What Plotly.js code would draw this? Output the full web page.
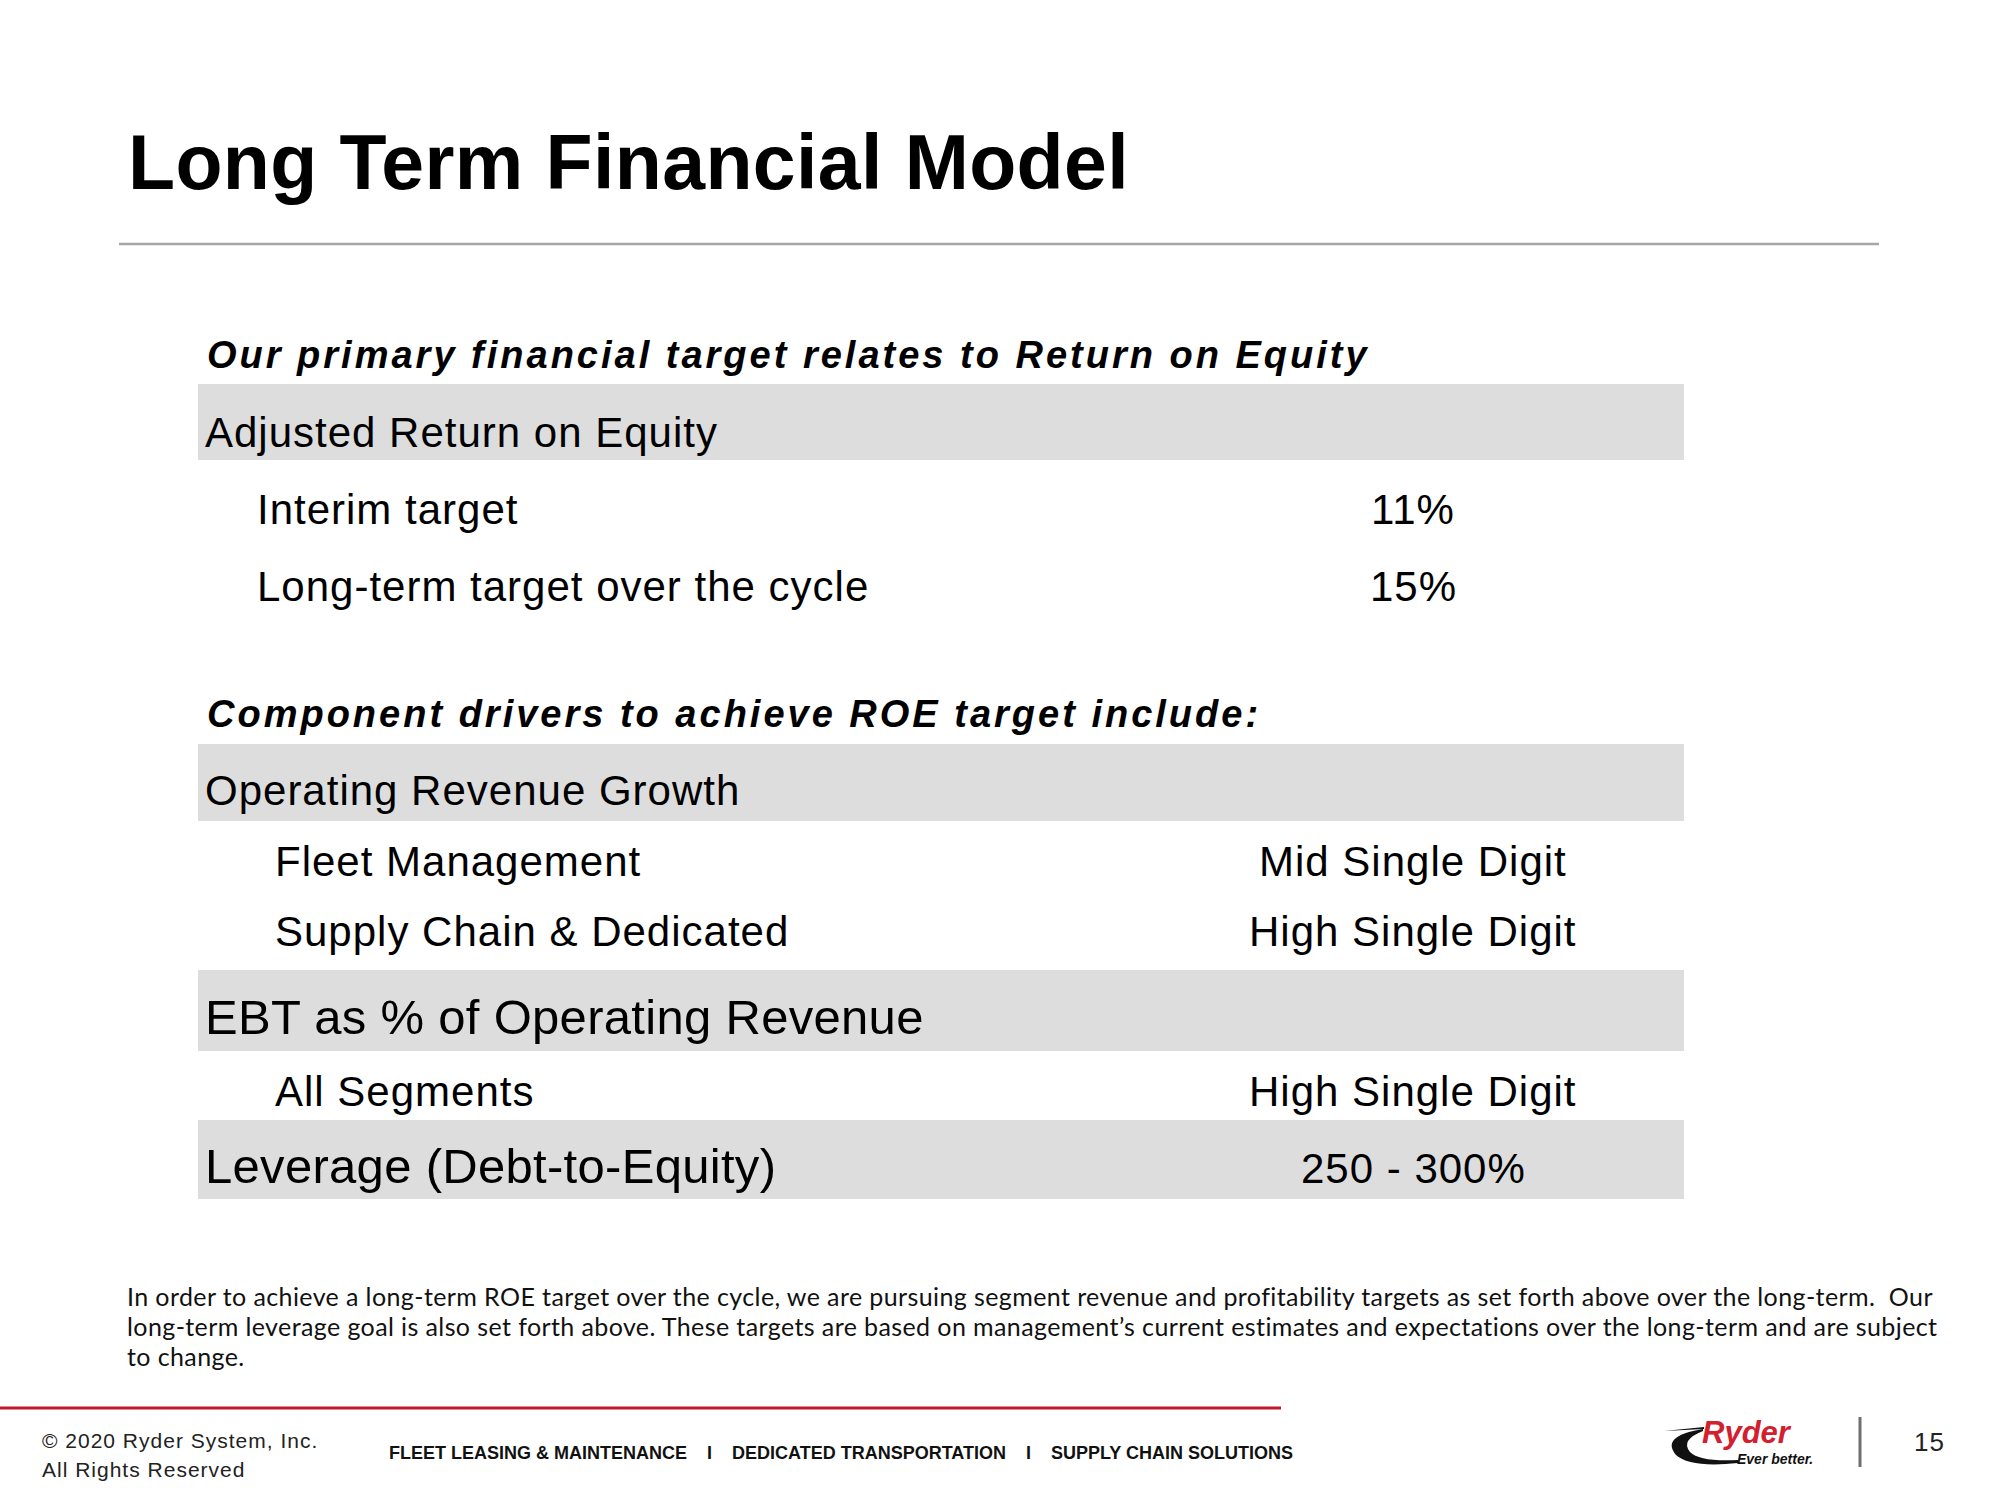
<!DOCTYPE html>
<html>
<head>
<meta charset="utf-8">
<script src="https://cdn.plot.ly/plotly-3.0.1.min.js"></script>
<style>
  html, body { margin: 0; padding: 0; background: #ffffff; }
  #chart { width: 2000px; height: 1500px; }
  text.annotation-text[style*="font-size: 77px"] { letter-spacing: 0.4px; }
  text.annotation-text[style*="font-size: 38px"] { letter-spacing: 3px; }
  text.annotation-text[style*="font-size: 42px"] { letter-spacing: 1px; }
  text.annotation-text[style*="font-size: 49px"] { letter-spacing: 0.3px; }
  text.annotation-text[style*="font-size: 25px"] { letter-spacing: 0.4px; }
  text.annotation-text[style*="font-size: 21px"] { letter-spacing: 1px; }
  text.annotation-text[style*="font-size: 26px"] { letter-spacing: 1px; }
</style>
</head>
<body>
<div id="chart"></div>
<script>
// ---------------- data ----------------
const slideTitle = "Long Term Financial Model";
const sectionTitles = [
  "Our primary financial target relates to Return on Equity",
  "Component drivers to achieve ROE target include:"
];
const rowLabels = [
  "Adjusted Return on Equity",
  "Interim target",
  "Long-term target over the cycle",
  "Operating Revenue Growth",
  "Fleet Management",
  "Supply Chain & Dedicated",
  "EBT as % of Operating Revenue",
  "All Segments",
  "Leverage (Debt-to-Equity)"
];
const rowValues = [
  "", "11%", "15%",
  "", "Mid Single Digit", "High Single Digit",
  "", "High Single Digit",
  "250 - 300%"
];
const rowKinds = ["band", "sub1", "sub1", "band", "sub2", "sub2", "bandLarge", "sub2", "bandLarge"];
const footnoteLines = [
  "In order to achieve a long-term ROE target over the cycle, we are pursuing segment revenue and profitability targets as set forth above over the long-term.  Our",
  "long-term leverage goal is also set forth above. These targets are based on management\u2019s current estimates and expectations over the long-term and are subject",
  "to change."
];
const copyrightLines = ["\u00A9 2020 Ryder System, Inc.", "All Rights Reserved"];
const businessLines = ["FLEET LEASING & MAINTENANCE", "DEDICATED TRANSPORTATION", "SUPPLY CHAIN SOLUTIONS"];
const pageNumber = "15";
const logoWord = "Ryder";
const logoTagline = "Ever better.";

// ---------------- layout ----------------
const SANS = "Liberation Sans, Arial, sans-serif";
const BODY_SIZE = 42, LARGE_SIZE = 49;
const rowY = [432, 509, 586, 790, 861, 931, 1017, 1091, 1166];
const bandY = {0: [384, 460], 3: [744, 821], 6: [970, 1051], 8: [1120, 1199]};
const sectionY = [355, 714];
const indentX = {band: 205, bandLarge: 205, sub1: 257, sub2: 275};
const valueX = 1413;
const bandX = [198, 1684];
const BAND_COLOR = "#dddddd";

const annotations = [];
const shapes = [];

function ann(text, x, y, font, xanchor) {
  annotations.push({
    text: text, x: x, y: y, xref: "x", yref: "y",
    xanchor: xanchor || "left", yanchor: "middle",
    showarrow: false, borderpad: 0, borderwidth: 0,
    font: Object.assign({family: SANS, color: "#000000"}, font)
  });
}

// title and rule
ann(slideTitle, 128, 162, {size: 77, weight: "bold"});
shapes.push({type: "line", xref: "x", yref: "y", x0: 119, x1: 1879, y0: 244, y1: 244,
  line: {color: "#a6a6a6", width: 2.5}, layer: "below"});

// section headers
sectionTitles.forEach((t, i) => ann(t, 207, sectionY[i], {size: 38, weight: "bold", style: "italic"}));

// rows
rowLabels.forEach((label, i) => {
  const kind = rowKinds[i];
  if (bandY[i]) {
    shapes.push({type: "rect", xref: "x", yref: "y", x0: bandX[0], x1: bandX[1],
      y0: bandY[i][0], y1: bandY[i][1], fillcolor: BAND_COLOR, line: {width: 0}, layer: "below"});
  }
  const size = kind === "bandLarge" ? LARGE_SIZE : BODY_SIZE;
  ann(label, indentX[kind], rowY[i], {size: size});
  if (rowValues[i]) {
    ann(rowValues[i], valueX, rowY[i] + (kind === "bandLarge" ? 2 : 0), {size: BODY_SIZE}, "center");
  }
});

// footnote
const footY = [1296, 1326, 1356];
footnoteLines.forEach((t, i) => ann(t, 127, footY[i], {family: "Lato, Open Sans, sans-serif", size: 25, color: "#111111"}));

// footer
shapes.push({type: "line", xref: "x", yref: "y", x0: 0, x1: 1281, y0: 1408, y1: 1408,
  line: {color: "#c0192c", width: 3}});
ann(copyrightLines[0], 42, 1440, {size: 21, color: "#222222"});
ann(copyrightLines[1], 42, 1469, {size: 21, color: "#222222"});
const sep = "\u00A0\u00A0\u00A0\u00A0I\u00A0\u00A0\u00A0\u00A0";
ann(businessLines.join(sep), 389, 1453, {size: 18, weight: "bold", color: "#111111"});

// logo
shapes.push({type: "path", xref: "x", yref: "y",
  path: "M 1703 1429 Q 1660 1436 1676 1455 Q 1690 1468 1738 1463 L 1738 1460 Q 1700 1462 1690 1452 Q 1680 1440 1703 1431 Z",
  fillcolor: "#111111", line: {width: 0}});
shapes.push({type: "path", xref: "x", yref: "y",
  path: "M 1664 1431 L 1704 1427 L 1704 1429 Z", fillcolor: "#111111", line: {width: 0}});
ann(logoWord, 1702, 1432, {size: 31, weight: "bold", style: "italic", color: "#d2202f"});
ann(logoTagline, 1737, 1459, {size: 14, weight: "bold", style: "italic", color: "#111111"});
shapes.push({type: "line", xref: "x", yref: "y", x0: 1860, x1: 1860, y0: 1417, y1: 1467,
  line: {color: "#6f6f6f", width: 3}});
ann(pageNumber, 1929, 1442, {size: 26, color: "#222222"}, "center");

const layout = {
  width: 2000, height: 1500,
  margin: {l: 0, r: 0, t: 0, b: 0, pad: 0},
  paper_bgcolor: "#ffffff", plot_bgcolor: "#ffffff",
  showlegend: false,
  xaxis: {range: [0, 2000], visible: false, fixedrange: true},
  yaxis: {range: [1500, 0], visible: false, fixedrange: true},
  annotations: annotations,
  shapes: shapes
};

Plotly.newPlot("chart", [{x: [], y: [], type: "scatter", mode: "markers", hoverinfo: "skip"}], layout,
  {staticPlot: true, displayModeBar: false});
</script>
</body>
</html>
